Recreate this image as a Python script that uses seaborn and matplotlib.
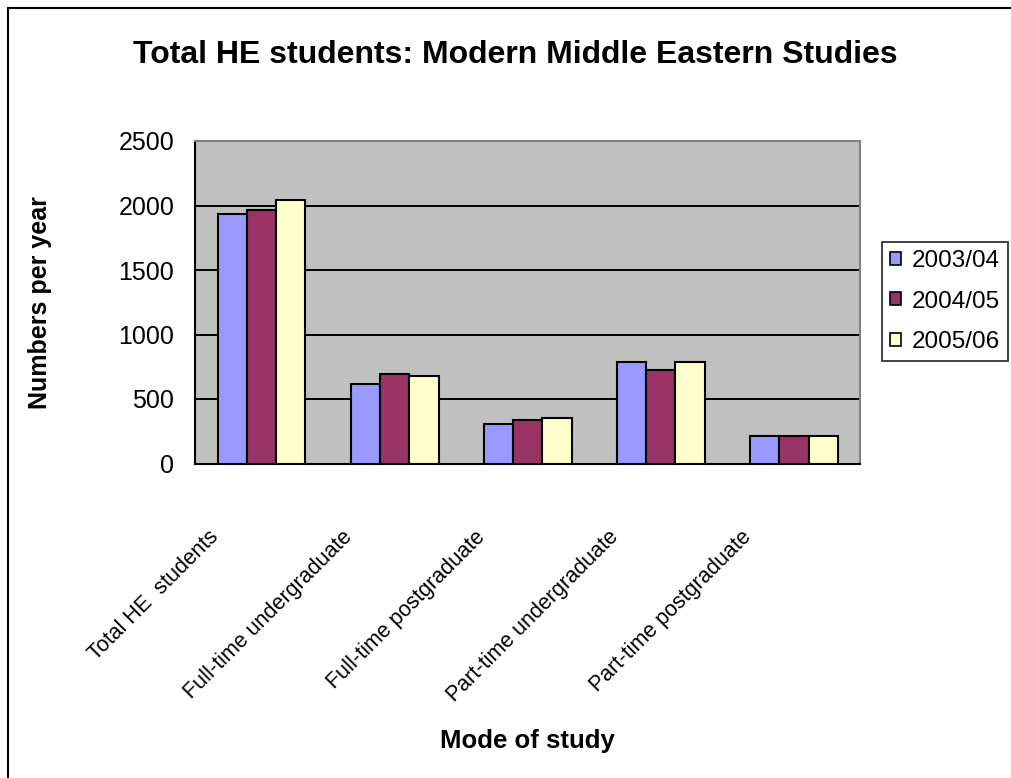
import matplotlib
matplotlib.use("Agg")
import matplotlib.pyplot as plt
import matplotlib.transforms as mtransforms
from matplotlib.patches import Patch
from matplotlib.lines import Line2D
import seaborn as sns
import pandas as pd

categories = ["Total HE  students", "Full-time undergraduate", "Full-time postgraduate",
              "Part-time undergraduate", "Part-time postgraduate"]
years = ["2003/04", "2004/05", "2005/06"]
values_2003 = [1935, 619, 307, 790, 214]
values_2004 = [1966, 697, 341, 728, 214]
values_2005 = [2043, 681, 356, 790, 214]
colors = ["#9999FF", "#993366", "#FFFFCC"]
yticks = [0, 500, 1000, 1500, 2000, 2500]

rows = []
for yr, vals in zip(years, [values_2003, values_2004, values_2005]):
    for c, v in zip(categories, vals):
        rows.append({"mode": c, "year": yr, "value": v})
df = pd.DataFrame(rows)

sns.set_style("white")
plt.rcParams["font.family"] = ["Liberation Sans", "DejaVu Sans"]
plt.rcParams["text.color"] = "black"
plt.rcParams["axes.labelcolor"] = "black"
plt.rcParams["xtick.color"] = "black"
plt.rcParams["ytick.color"] = "black"

fig = plt.figure(figsize=(10.12, 7.78), dpi=100)
W, H = 1012, 778
ax = fig.add_axes([195 / W, 1 - 463.5 / H, (860.5 - 195) / W, (463.5 - 141) / H])
ax.set_facecolor("#C0C0C0")

sns.barplot(data=df, x="mode", y="value", hue="year", order=categories, hue_order=years,
            palette=colors, saturation=1, width=0.66, edgecolor="black", linewidth=1.5,
            legend=False, ax=ax, zorder=3, errorbar=None)

ax.set_ylim(0, 2500)
ax.set_xlim(-0.5, len(categories) - 0.5)
ax.set_yticks(yticks)
ax.set_yticklabels([str(t) for t in yticks], fontsize=18)
for t in yticks[1:-1]:
    ax.axhline(t, color="black", lw=1.4, zorder=1)

ax.set_xticks(range(len(categories)))
ax.set_xticklabels([])
ax.set_xticks([i - 0.5 for i in range(len(categories) + 1)], minor=True)
ax.tick_params(axis="x", which="major", length=0)
ax.tick_params(axis="x", which="minor", length=6, width=1.5, direction="out", color="black")
ax.tick_params(axis="y", length=6, width=1.5, direction="out", color="black", pad=9)

for s in ["left", "bottom"]:
    ax.spines[s].set_color("black")
    ax.spines[s].set_linewidth(1.5)
for s in ["top", "right"]:
    ax.spines[s].set_color("#808080")
    ax.spines[s].set_linewidth(1.5)

# rotated category labels
offset = mtransforms.ScaledTranslation(-0.42, -0.745, fig.dpi_scale_trans)
trans = mtransforms.blended_transform_factory(ax.transData, ax.transAxes) + offset
for i, c in enumerate(categories):
    ax.text(i, 0, c, transform=trans, rotation=45, rotation_mode="anchor",
            ha="right", va="baseline", fontsize=15.5)

ax.set_ylabel("Numbers per year", fontsize=18, fontweight="bold")
ax.yaxis.set_label_coords((52 - 195) / (860.5 - 195), 0.5)
ax.set_xlabel("Mode of study", fontsize=18.5, fontweight="bold", va="center")
ax.xaxis.set_label_coords(0.5, (463.5 - 741) / (463.5 - 141))

fig.text(515 / W, 1 - 55 / H, "Total HE students: Modern Middle Eastern Studies",
         ha="center", va="center", fontsize=23, fontweight="bold")

handles = [Patch(facecolor=c, edgecolor="black", linewidth=1.2) for c in colors]
leg = fig.legend(handles, years, loc="center left", bbox_to_anchor=(882 / W, 1 - 301.5 / H),
                 fontsize=17.5, frameon=True, fancybox=False, edgecolor="black",
                 handlelength=0.45, handleheight=0.45, handletextpad=0.45,
                 labelspacing=0.75, borderpad=0.33, borderaxespad=0)
leg.get_frame().set_linewidth(1.3)

fig.add_artist(Line2D([8 / W, 8 / W], [0, 1 - 8 / H], transform=fig.transFigure, color="black", lw=1.5))
fig.add_artist(Line2D([8 / W, 1], [1 - 8 / H, 1 - 8 / H], transform=fig.transFigure, color="black", lw=1.5))

fig.savefig("out.png", dpi=100, facecolor="white")
